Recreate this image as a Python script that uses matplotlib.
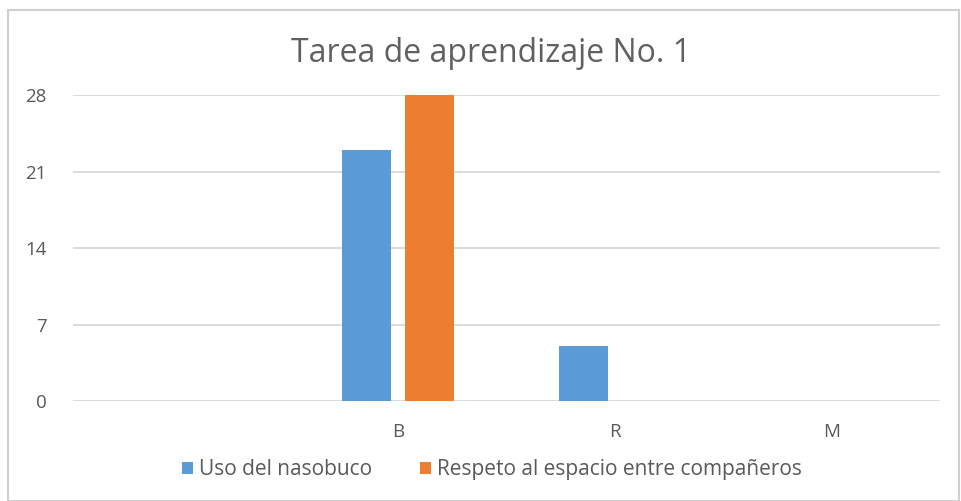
import matplotlib
matplotlib.use("Agg")
import matplotlib.pyplot as plt
from matplotlib.patches import Rectangle
import numpy as np

plt.rcParams['font.family'] = ['Open Sans', 'DejaVu Sans']

# data
categories = ["", "B", "R", "M"]
nasobuco = [0, 23, 5, 0]
espacio = [0, 28, 0, 0]
series_names = ["Uso del nasobuco", "Respeto al espacio entre compañeros"]
yticks = [0, 7, 14, 21, 28]

BLUE = "#5b9bd5"
ORANGE = "#ed7d31"
GRID = "#d9d9d9"
TEXT = "#595959"

fig = plt.figure(figsize=(9.61, 5.01), dpi=100)
ax = fig.add_axes([0.076, 0.1996, 0.902, 0.6104])

x = np.arange(len(categories))
w = 0.227
off = 0.145
ax.bar(x - off, nasobuco, w, color=BLUE, label=series_names[0], zorder=3)
ax.bar(x + off, espacio, w, color=ORANGE, label=series_names[1], zorder=3)

ax.set_xlim(-0.5, len(categories) - 0.5)
ax.set_ylim(0, 28)
ax.set_yticks(yticks)
ax.set_xticks(x)
ax.set_xticklabels(categories)
ax.yaxis.grid(True, color=GRID, linewidth=1.3, zorder=0)
ax.tick_params(axis='both', length=0, colors=TEXT, labelsize=13.5)
ax.tick_params(axis='x', pad=16)
ax.tick_params(axis='y', pad=19)
for s in ax.spines.values():
    s.set_visible(False)

fig.text(0.511, 0.894, "Tarea de aprendizaje No. 1", ha='center', va='center',
         fontsize=23, color="#606060")

leg = fig.legend(loc='center', bbox_to_anchor=(0.512, 0.062), ncol=2, frameon=False,
                 fontsize=15, handlelength=0.5, handleheight=0.5,
                 handletextpad=0.3, columnspacing=2.3)
for t in leg.get_texts():
    t.set_color(TEXT)

# chart border
fig.patches.append(Rectangle((0.008, 0.0), 0.99, 0.98, transform=fig.transFigure,
                             fill=False, edgecolor="#d0d0d0", linewidth=1.5))

fig.savefig("out.png", dpi=100)
